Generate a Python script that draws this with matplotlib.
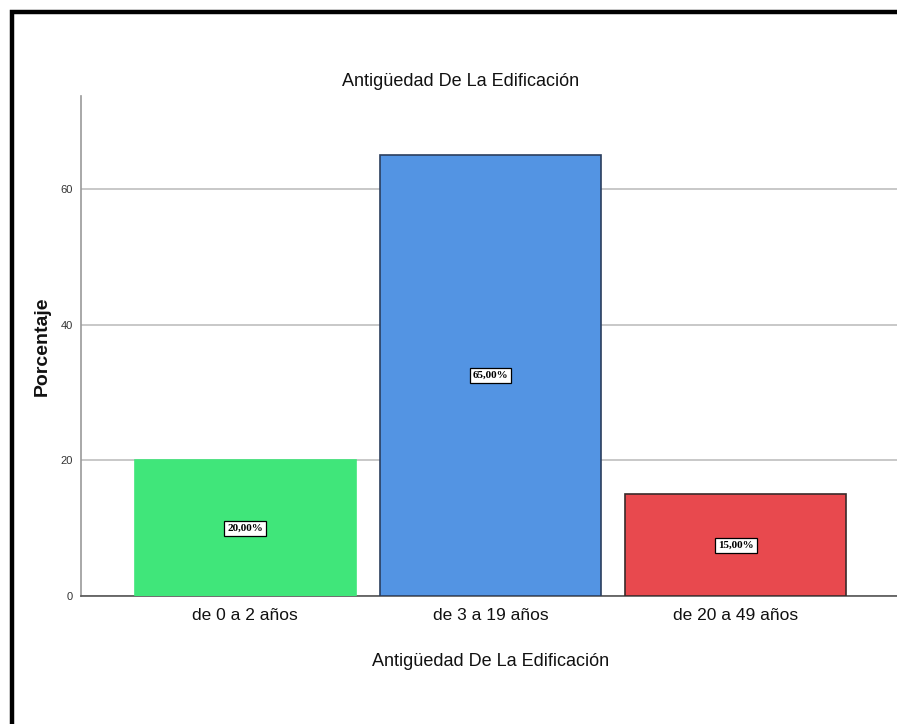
import matplotlib
matplotlib.use("Agg")
import matplotlib.pyplot as plt
from matplotlib.patches import Rectangle

categories = ["de 0 a 2 años", "de 3 a 19 años", "de 20 a 49 años"]
percentages = [20.0, 65.0, 15.0]
bar_colors = ["#40E67A", "#5394E3", "#E8494E"]
edge_colors = ["#40E67A", "#2B3E5E", "#3A2A2A"]
y_ticks = [0, 20, 40, 60]
title_text = "Antigüedad De La Edificación"
x_label = "Antigüedad De La Edificación"
y_label = "Porcentaje"

sans = ["Liberation Sans Narrow", "Liberation Sans", "DejaVu Sans"]

fig = plt.figure(figsize=(8.97, 7.24), dpi=100)
fig.patch.set_facecolor("white")

ax = fig.add_axes([0.0903, 0.1768, 0.9130, 0.6906])
x = list(range(len(categories)))
ax.bar(x, percentages, width=0.9, color=bar_colors, edgecolor=edge_colors,
       linewidth=1.2, zorder=3)

for xi, v in zip(x, percentages):
    ax.text(xi, v / 2, f"{v:.2f}%".replace(".", ","), ha="center", va="center",
            family=["Liberation Serif", "DejaVu Serif"], fontweight="bold",
            fontsize=8, color="black", zorder=4,
            bbox=dict(boxstyle="square,pad=0.28", facecolor="white",
                      edgecolor="black", linewidth=0.9))

ax.set_xlim(-0.669, 2.669)
ax.set_ylim(0, 73.7)
ax.set_yticks(y_ticks)
ax.set_yticklabels([str(t) for t in y_ticks], family=sans, fontsize=8,
                   color="#333333")
ax.set_xticks(x)
ax.set_xticklabels(categories, family=sans, fontsize=12.5, color="#111111")
ax.tick_params(axis="both", length=0)
ax.tick_params(axis="y", pad=6)
ax.tick_params(axis="x", pad=9)

ax.yaxis.grid(True, color="#C8C8C8", linewidth=1.4, zorder=0)
ax.set_axisbelow(True)
for side in ("top", "right"):
    ax.spines[side].set_visible(False)
ax.spines["left"].set_color("#999999")
ax.spines["left"].set_linewidth(1.2)
ax.spines["bottom"].set_color("#555555")
ax.spines["bottom"].set_linewidth(1.2)

ax.set_xlabel(x_label, family=sans, fontsize=13, color="#111111", labelpad=21)
ax.set_ylabel(y_label, family=["Liberation Sans", "DejaVu Sans"],
              fontweight="bold", fontsize=14, color="#111111")
ax.yaxis.set_label_coords(-0.0476, 0.5)
ax.yaxis.label.set_va("center")

fig.text(461 / 897, 1 - 81 / 724, title_text, ha="center", va="center",
         family=sans, fontsize=13, color="#111111")

# outer frame around the chart
fig.add_artist(Rectangle((12 / 897, -0.1), 1.2, 1 - 12 / 724 + 0.1,
                         transform=fig.transFigure, fill=False,
                         edgecolor="black", linewidth=3.2, clip_on=False))

fig.savefig("out.png", dpi=100, facecolor="white")
